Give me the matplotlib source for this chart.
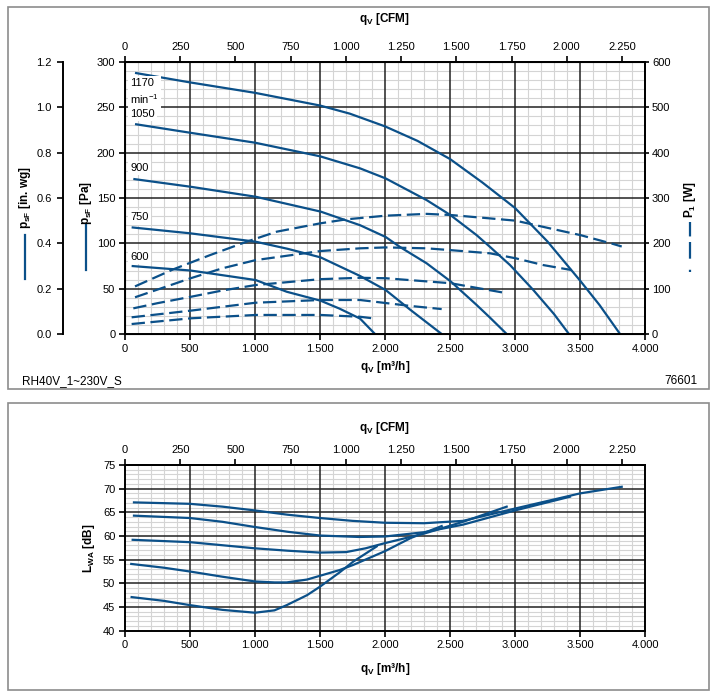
"""Fan chart RH40V_1~230V_S: static pressure, power input and sound power vs. air flow."""

import matplotlib.pyplot as plt
from matplotlib.lines import Line2D
from matplotlib.patches import Rectangle
from matplotlib.ticker import FuncFormatter, MultipleLocator

plt.rcParams["font.family"] = ["Liberation Sans", "DejaVu Sans"]
plt.rcParams["mathtext.fontset"] = "custom"
plt.rcParams["mathtext.rm"] = "Liberation Sans"
plt.rcParams["mathtext.bf"] = "Liberation Sans:bold"
plt.rcParams["mathtext.it"] = "Liberation Sans:italic"

BLUE = "#0b5089"
M3H_PER_CFM = 1.699
W, H = 717, 697

speed_labels = ["600", "750", "900", "1050", "1170\nmin$^{-1}$"]
label_q = [40, 40, 40, 40, 40]
label_p = [85, 128.6, 183, 242.6, 267]

# static pressure p_sF [Pa] vs q_V [m3/h]
q_p600 = [51, 505, 1005, 1244, 1505, 1650, 1808, 1923]
p_600 = [75, 70, 59.5, 46.6, 36.7, 28, 17, 0]
q_p750 = [51, 505, 1005, 1250, 1505, 1808, 2005, 2192, 2436]
p_750 = [117.6, 111, 101.8, 94, 84.5, 64, 48.5, 27, 0]
q_p900 = [64, 505, 1005, 1505, 1808, 2005, 2115, 2320, 2505, 2705, 2808, 2936]
p_900 = [171, 162.4, 151.4, 135, 120, 107, 96, 78, 58, 32, 18, 0]
q_p1050 = [77, 500, 1000, 1500, 1808, 2005, 2320, 2505, 2705, 2808, 2962, 3141, 3300, 3415]
p_1050 = [231.5, 222, 211, 196, 182.7, 171.6, 147.7, 131, 109, 96, 76, 48.5, 22, 0]
q_p1170 = [77, 500, 1000, 1500, 1730, 2000, 2250, 2500, 2750, 3000, 3250, 3500, 3650, 3808]
p_1170 = [288, 277.5, 266, 252, 243, 229, 213, 193, 167, 139, 102, 59, 32, 0]

# power input P_1 [W]
q_w600 = [51, 505, 1005, 1505, 1808, 1923]
w_600 = [22, 34.6, 42, 42, 38, 34]
q_w750 = [51, 505, 1005, 1505, 1808, 2192, 2436]
w_750 = [36.8, 51.5, 69, 75, 75, 62, 55]
q_w900 = [64, 250, 505, 750, 1005, 1505, 1808, 2005, 2505, 2936]
w_900 = [56.6, 68, 82, 96, 108, 121, 124, 123, 112, 90]
q_w1050 = [77, 505, 750, 1005, 1505, 1808, 2005, 2320, 2505, 2808, 3005, 3218, 3436]
w_1050 = [81, 123, 145, 163, 183, 189, 191, 189, 185, 178, 167, 152, 141]
q_w1170 = [77, 372, 654, 936, 1167, 1500, 1705, 2005, 2320, 2505, 2808, 3005, 3269, 3505, 3756, 3821]
w_1170 = [105, 142.7, 174, 203.6, 225.7, 244, 253, 261, 265, 262.5, 255, 250, 233, 218, 198.5, 193]

# sound power L_WA [dB]
q_s600 = [51, 300, 500, 750, 1000, 1150, 1244, 1400, 1500, 1650, 1756, 1936]
s_600 = [47.1, 46.3, 45.4, 44.4, 43.8, 44.3, 45.4, 47.5, 49.3, 52.3, 54.6, 57.8]
q_s750 = [48, 300, 500, 750, 1000, 1150, 1244, 1400, 1500, 1650, 1756, 2000, 2200, 2436]
s_750 = [54.1, 53.3, 52.5, 51.4, 50.4, 50.2, 50.2, 50.8, 51.6, 52.8, 53.9, 56.8, 59.6, 62.1]
q_s900 = [59, 500, 1000, 1250, 1500, 1700, 1850, 2000, 2300, 2600, 2936]
s_900 = [59.2, 58.7, 57.4, 56.9, 56.5, 56.6, 57.4, 58.5, 60.5, 63.0, 66.2]
q_s1050 = [69, 500, 750, 1000, 1250, 1500, 1800, 2000, 2300, 2600, 3000, 3423]
s_1050 = [64.3, 63.8, 63.0, 61.9, 60.9, 60.1, 59.8, 59.9, 60.8, 62.4, 65.4, 68.3]
q_s1170 = [69, 500, 750, 1000, 1250, 1500, 1750, 2000, 2300, 2600, 3000, 3500, 3821]
s_1170 = [67.1, 66.8, 66.2, 65.4, 64.5, 63.8, 63.2, 62.8, 62.7, 63.2, 65.8, 69.0, 70.4]

pressure = [(q_p600, p_600), (q_p750, p_750), (q_p900, p_900), (q_p1050, p_1050), (q_p1170, p_1170)]
power = [(q_w600, w_600), (q_w750, w_750), (q_w900, w_900), (q_w1050, w_1050), (q_w1170, w_1170)]
sound = [(q_s600, s_600), (q_s750, s_750), (q_s900, s_900), (q_s1050, s_1050), (q_s1170, s_1170)]


def dotted_thousands(v, pos=None):
    return f"{v:,.0f}".replace(",", ".")


def rect(x0, y0, x1, y1):
    # pixel box (top-left origin) -> figure fraction [left, bottom, width, height]
    return [x0 / W, 1 - y1 / H, (x1 - x0) / W, (y1 - y0) / H]


def fx(x, y):
    return x / W, 1 - y / H


def style_grid(ax, minor_x, minor_y, major_y):
    ax.xaxis.set_major_locator(MultipleLocator(500))
    ax.xaxis.set_minor_locator(MultipleLocator(minor_x))
    ax.yaxis.set_major_locator(MultipleLocator(major_y))
    ax.yaxis.set_minor_locator(MultipleLocator(minor_y))
    ax.grid(which="minor", color="#d4d4d4", lw=0.8)
    ax.set_axisbelow(True)
    # major lines drawn on top of the light grid so crossings stay dark
    for x in ax.get_xticks():
        if 0 < x < ax.get_xlim()[1]:
            ax.axvline(x, color="#222222", lw=1.1, zorder=0.9)
    y0, y1 = ax.get_ylim()
    for y in ax.get_yticks():
        if y0 < y < y1:
            ax.axhline(y, color="#222222", lw=1.1, zorder=0.9)
    ax.xaxis.set_major_formatter(FuncFormatter(dotted_thousands))
    ax.tick_params(which="minor", length=0)
    ax.tick_params(which="major", length=4, width=1.2, labelsize=8, pad=3)
    for s in ax.spines.values():
        s.set_linewidth(1.4)
    top = ax.secondary_xaxis("top", functions=(lambda x: x / M3H_PER_CFM, lambda x: x * M3H_PER_CFM))
    top.xaxis.set_major_locator(MultipleLocator(250))
    top.xaxis.set_major_formatter(FuncFormatter(dotted_thousands))
    top.tick_params(length=4, width=1.2, labelsize=8, pad=3)
    top.spines["top"].set_linewidth(1.4)


def main() -> None:
    fig = plt.figure(figsize=(W / 100, H / 100), dpi=100)

    # panel frames
    for y0, y1 in [(7, 389), (403, 690)]:
        x0, b, w, h = rect(8, y0, 709, y1)
        fig.patches.append(Rectangle((x0, b), w, h, transform=fig.transFigure,
                                     fill=False, edgecolor="#8c8c8c", lw=1.2))

    # ---- upper chart: pressure + power ----
    ax = fig.add_axes(rect(125, 62, 645, 334))
    ax.set_xlim(0, 4000)
    ax.set_ylim(0, 300)
    style_grid(ax, 100, 10, 50)

    for q, p in pressure:
        ax.plot(q, p, color=BLUE, lw=1.6, solid_capstyle="butt")
    for lab, lq, lp in zip(speed_labels, label_q, label_p):
        ax.text(lq, lp, lab, fontsize=8, va="center", ha="left", zorder=3, linespacing=1.3,
                bbox=dict(facecolor="white", edgecolor="none", pad=1.5))

    ax_w = ax.twinx()
    ax_w.set_ylim(0, 600)
    ax_w.yaxis.set_major_locator(MultipleLocator(100))
    ax_w.tick_params(length=3, width=1.2, labelsize=8, pad=2)
    ax_w.spines["right"].set_linewidth(1.4)
    for q, w in power:
        ax_w.plot(q, w, color=BLUE, lw=1.6, linestyle=(0, (6, 2.5)))

    ax_in = ax.twinx()
    ax_in.set_ylim(0, 1.2)
    ax_in.yaxis.tick_left()
    ax_in.yaxis.set_major_locator(MultipleLocator(0.2))
    ax_in.yaxis.set_major_formatter(FuncFormatter(lambda v, pos: f"{v:.1f}"))
    ax_in.tick_params(length=4, width=1.2, labelsize=8, pad=4)
    for side in ["top", "right", "bottom"]:
        ax_in.spines[side].set_visible(False)
    ax_in.spines["left"].set_visible(True)
    ax_in.spines["left"].set_position(("outward", 62 * 0.72))
    ax_in.spines["left"].set_linewidth(1.4)

    bold = dict(fontsize=8.5, fontweight="bold")
    fig.text(*fx(385, 19), r"$\mathbf{q_V}$ [CFM]", ha="center", va="center", **bold)
    fig.text(*fx(385, 367), r"$\mathbf{q_V}$ [m³/h]", ha="center", va="center", **bold)
    fig.text(*fx(25, 198), r"$\mathbf{p_{sF}}$ [in. wg]", rotation=90, ha="center", va="center", **bold)
    fig.text(*fx(86, 203), r"$\mathbf{p_{sF}}$ [Pa]", rotation=90, ha="center", va="center", **bold)
    fig.text(*fx(690, 200), r"$\mathbf{P_1}$ [W]", rotation=90, ha="center", va="center", **bold)
    fig.text(*fx(22, 381), "RH40V_1~230V_S", ha="left", va="center", fontsize=8.5)
    fig.text(*fx(697, 381), "76601", ha="right", va="center", fontsize=8.5)

    for x, y0, y1, ls in [(25, 279, 235, "-"), (86, 270, 225, "-"),
                          (690, 272, 222, (0, (1, 5, 7.5, 2.5, 9.5, 10)))]:
        fig.add_artist(Line2D([x / W, x / W], [1 - y0 / H, 1 - y1 / H],
                              transform=fig.transFigure, color=BLUE, lw=1.6, linestyle=ls))

    # ---- lower chart: sound power ----
    ax2 = fig.add_axes(rect(125, 465, 645, 630.7))
    ax2.set_xlim(0, 4000)
    ax2.set_ylim(40, 75)
    style_grid(ax2, 100, 1, 5)
    for q, s in sound:
        ax2.plot(q, s, color=BLUE, lw=1.6)

    fig.text(*fx(385, 428), r"$\mathbf{q_V}$ [CFM]", ha="center", va="center", **bold)
    fig.text(*fx(385, 669), r"$\mathbf{q_V}$ [m³/h]", ha="center", va="center", **bold)
    fig.text(*fx(89, 548), r"$\mathbf{L_{WA}}$ [dB]", rotation=90, ha="center", va="center", **bold)

    fig.savefig("out.png", dpi=100)


if __name__ == "__main__":
    main()
